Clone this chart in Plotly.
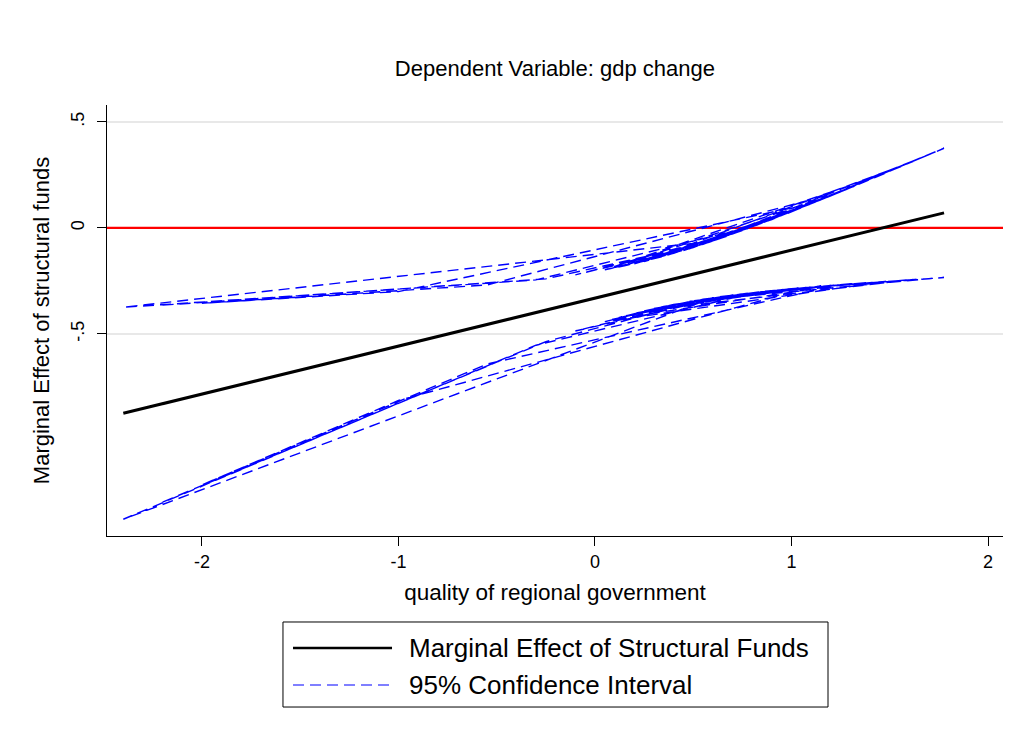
import plotly.graph_objects as go

# quality of regional government, in data order (unsorted, as in the original dataset)
x_vals = [-2.20, -0.25, 0.58, 1.38, 0.85, 0.48, 1.70, 0.98, 1.00, 0.65,
          0.35, 0.12, 0.78, 0.45, 1.05, 0.62, 0.20, 0.95, 1.32, 0.70,
          -0.10, 0.55, 1.15, 0.30, 0.88, 1.776, 1.20, 0.40, 0.05, 1.48,
          0.82, -0.30, -2.40, 0.60, 0.08, 1.25, -0.55, -2.00, -1.00, 1.10,
          0.50, 0.25, 1.62, 0.90, 0.15, 0.75]

# marginal effect of structural funds
me_vals = [-0.829, -0.388, -0.200, -0.019, -0.139, -0.222, 0.054, -0.109, -0.105, -0.184,
           -0.252, -0.304, -0.155, -0.229, -0.094, -0.191, -0.286, -0.116, -0.032, -0.173,
           -0.354, -0.207, -0.071, -0.263, -0.132, 0.071, -0.060, -0.241, -0.320, 0.004,
           -0.146, -0.399, -0.874, -0.195, -0.313, -0.048, -0.455, -0.783, -0.557, -0.082,
           -0.218, -0.275, 0.035, -0.127, -0.297, -0.161]

# upper 95% bound
upper_vals = [-0.364, -0.240, -0.068, 0.221, 0.023, -0.098, 0.346, 0.069, 0.077, -0.046,
              -0.134, -0.185, -0.002, -0.107, 0.095, -0.055, -0.169, 0.059, 0.197, -0.029,
              -0.221, -0.077, 0.133, -0.146, 0.033, 0.376, 0.151, -0.120, -0.198, 0.259,
              0.012, -0.245, -0.374, -0.062, -0.192, 0.170, -0.269, -0.355, -0.300, 0.114,
              -0.092, -0.158, 0.314, 0.040, -0.179, -0.012]

# lower 95% bound
lower_vals = [-1.293, -0.536, -0.332, -0.258, -0.300, -0.347, -0.239, -0.288, -0.286, -0.323,
              -0.370, -0.423, -0.307, -0.352, -0.282, -0.326, -0.403, -0.291, -0.262, -0.316,
              -0.486, -0.336, -0.274, -0.380, -0.297, -0.234, -0.271, -0.361, -0.442, -0.252,
              -0.303, -0.553, -1.374, -0.329, -0.433, -0.267, -0.642, -1.212, -0.814, -0.278,
              -0.344, -0.391, -0.243, -0.295, -0.415, -0.311]

ref_value = 0
x_range = [-2.483, 2.076]
y_range = [-1.453, 0.58]
x_ticks = [-2, -1, 0, 1, 2]
x_ticktext = ["-2", "-1", "0", "1", "2"]
y_ticks = [-0.5, 0, 0.5]
y_ticktext = ["-.5", "0", ".5"]

title_text = "Dependent Variable: gdp change"
x_title = "quality of regional government"
y_title = "Marginal Effect of structural funds"
legend_labels = ["Marginal Effect of Structural Funds", "95% Confidence Interval"]

FONT = "Liberation Sans, Arial, Helvetica, sans-serif"
BLUE = "#0000ff"
DASH = "11px,6px"

fig = go.Figure()

# reference line at zero across the whole plot region
fig.add_trace(go.Scatter(x=x_range, y=[ref_value, ref_value], mode="lines",
                         line=dict(color="#ff0000", width=2.2),
                         showlegend=False, hoverinfo="skip"))

fig.add_trace(go.Scatter(x=x_vals, y=upper_vals, mode="lines",
                         line=dict(color=BLUE, width=1.4, dash=DASH),
                         showlegend=False, hoverinfo="skip"))
fig.add_trace(go.Scatter(x=x_vals, y=lower_vals, mode="lines",
                         line=dict(color=BLUE, width=1.4, dash=DASH),
                         showlegend=False, hoverinfo="skip"))
fig.add_trace(go.Scatter(x=x_vals, y=me_vals, mode="lines",
                         line=dict(color="#000000", width=3),
                         showlegend=False))

# manual Stata-like legend below the plot
fig.add_shape(type="rect", xref="paper", yref="paper",
              x0=0.1964, x1=0.8047, y0=-0.3968, y1=-0.1995,
              line=dict(color="#000000", width=1), fillcolor="white")
fig.add_shape(type="line", xref="paper", yref="paper",
              x0=0.2076, x1=0.3181, y0=-0.2599, y1=-0.2599,
              line=dict(color="#000000", width=2.4))
fig.add_shape(type="line", xref="paper", yref="paper",
              x0=0.2076, x1=0.3181, y0=-0.3457, y1=-0.3457,
              line=dict(color=BLUE, width=1.2, dash=DASH))
for lab, yy in zip(legend_labels, [-0.2599, -0.3457]):
    fig.add_annotation(text=lab, xref="paper", yref="paper", x=0.3348, y=yy,
                       xanchor="left", yanchor="middle", showarrow=False,
                       font=dict(family=FONT, size=26, color="#000000"))

fig.update_layout(
    width=1024, height=735,
    margin=dict(l=107, r=21, t=105, b=199),
    paper_bgcolor="white", plot_bgcolor="white",
    font=dict(family=FONT, color="#000000"),
    title=dict(text=title_text, x=0.5419, xanchor="center", y=0.9075, yanchor="middle",
               font=dict(family=FONT, size=22, color="#000000")),
    showlegend=False,
)

fig.update_xaxes(range=x_range, tickvals=x_ticks, ticktext=x_ticktext, ticks="outside",
                 ticklen=9, tickcolor="#000000", tickwidth=1, showline=True,
                 linecolor="#000000", linewidth=1, showgrid=False, zeroline=False,
                 tickfont=dict(family=FONT, size=18, color="#000000"),
                 title=dict(text=x_title, standoff=13,
                            font=dict(family=FONT, size=22.5, color="#000000")))
fig.update_yaxes(range=y_range, tickvals=y_ticks, ticktext=y_ticktext,
                 tickangle=-90, ticks="outside", ticklen=9, tickcolor="#000000",
                 tickwidth=1, showline=True, linecolor="#000000", linewidth=1,
                 showgrid=True, gridcolor="#e8e8e8", gridwidth=2, zeroline=False,
                 ticklabelstandoff=6,
                 tickfont=dict(family=FONT, size=18, color="#000000"),
                 title=dict(text=y_title, standoff=12,
                            font=dict(family=FONT, size=22, color="#000000")))

fig.write_html("out.html")
